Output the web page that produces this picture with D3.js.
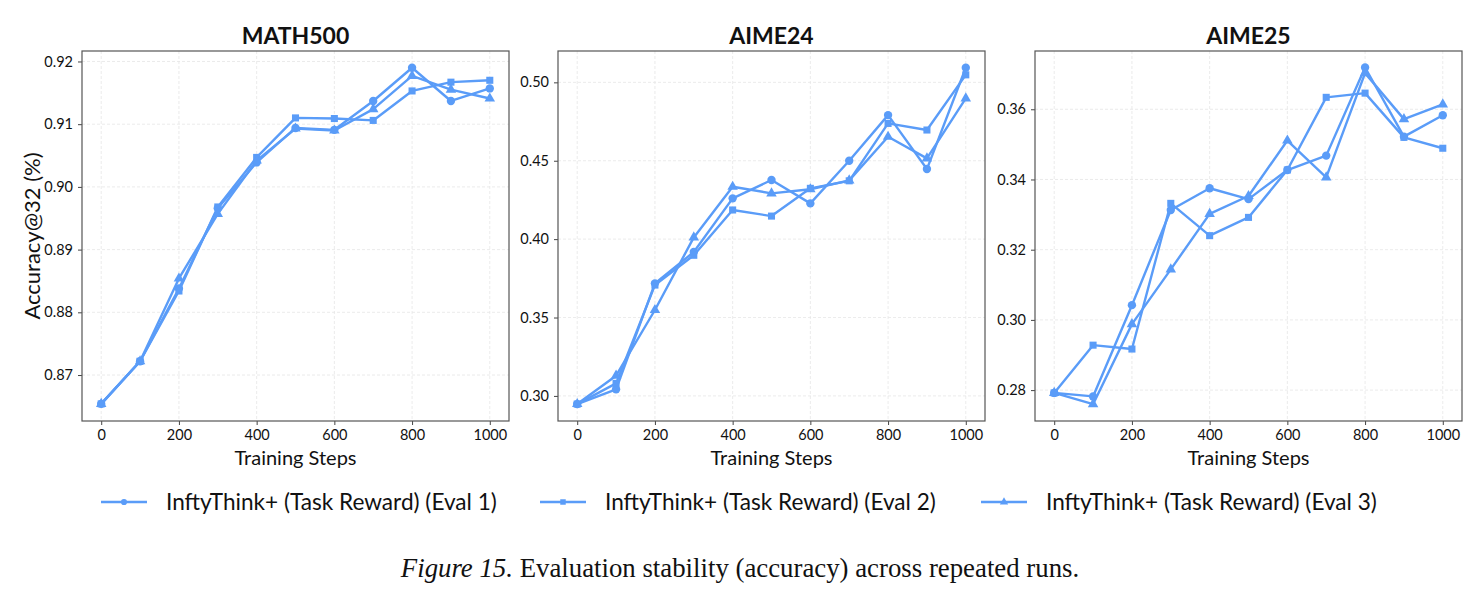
<!DOCTYPE html>
<html>
<head>
<meta charset="utf-8">
<script src="https://cdn.jsdelivr.net/npm/d3@7"></script>
<style>
  body { margin: 0; background: #fff; }
  svg text { font-family: Lato, "Noto Sans", sans-serif; fill: #111; }
</style>
</head>
<body>
<script>
const steps = [0, 100, 200, 300, 400, 500, 600, 700, 800, 900, 1000];
const seriesNames = ["InftyThink+ (Task Reward) (Eval 1)", "InftyThink+ (Task Reward) (Eval 2)", "InftyThink+ (Task Reward) (Eval 3)"];
const panelTitles = ["MATH500", "AIME24", "AIME25"];

// MATH500
const math500Eval1 = [0.8654, 0.8722, 0.8838, 0.8966, 0.9039, 0.9094, 0.9091, 0.9137, 0.9190, 0.9137, 0.9157];
const math500Eval2 = [0.8654, 0.8722, 0.8834, 0.8968, 0.9047, 0.9110, 0.9109, 0.9106, 0.9153, 0.9167, 0.9170];
const math500Eval3 = [0.8654, 0.8722, 0.8854, 0.8957, 0.9042, 0.9093, 0.9090, 0.9124, 0.9177, 0.9155, 0.9141];
const math500Ticks = [0.87, 0.88, 0.89, 0.90, 0.91, 0.92];

// AIME24
const aime24Eval1 = [0.2948, 0.3042, 0.3718, 0.3918, 0.4260, 0.4377, 0.4228, 0.4500, 0.4791, 0.4447, 0.5093];
const aime24Eval2 = [0.2948, 0.3080, 0.3707, 0.3897, 0.4186, 0.4147, 0.4324, 0.4372, 0.4738, 0.4696, 0.5048];
const aime24Eval3 = [0.2948, 0.3129, 0.3548, 0.4011, 0.4334, 0.4292, 0.4318, 0.4375, 0.4653, 0.4515, 0.4898];
const aime24Ticks = [0.30, 0.35, 0.40, 0.45, 0.50];

// AIME25
const aime25Eval1 = [0.2792, 0.2782, 0.3042, 0.3313, 0.3375, 0.3344, 0.3427, 0.3468, 0.3719, 0.3522, 0.3583];
const aime25Eval2 = [0.2792, 0.2928, 0.2917, 0.3332, 0.3240, 0.3292, 0.3427, 0.3634, 0.3646, 0.3520, 0.3489];
const aime25Eval3 = [0.2792, 0.2760, 0.2988, 0.3144, 0.3302, 0.3353, 0.3511, 0.3406, 0.3703, 0.3572, 0.3614];
const aime25Ticks = [0.28, 0.30, 0.32, 0.34, 0.36];

const xTicks = [0, 200, 400, 600, 800, 1000];

const lineColor = "#5a9cf8";
const symbols = [d3.symbolCircle, d3.symbolSquare, d3.symbolTriangle];
const symbolSizes = [55, 50, 48];

const width = 1483, height = 597;

let svg = d3.select("body").append("svg")
  .attr("width", width)
  .attr("height", height);

// panel frames (pixel boxes) + y domains
const panels = [
  { left: 82, right: 509, domain: [0.86267, 0.92167], ticks: math500Ticks, series: [math500Eval1, math500Eval2, math500Eval3] },
  { left: 558, right: 985, domain: [0.2840, 0.5200], ticks: aime24Ticks, series: [aime24Eval1, aime24Eval2, aime24Eval3] },
  { left: 1035, right: 1462, domain: [0.2712, 0.3766], ticks: aime25Ticks, series: [aime25Eval1, aime25Eval2, aime25Eval3] }
];
const plotTop = 51, plotBottom = 421;

panels.forEach((p, i) => drawPanel(p, i));

function drawPanel(p, idx) {
  // x padding so 0 and 1000 sit ~19px inside the frame
  let pad = (p.right - p.left) * 0.045;
  let x = d3.scaleLinear().domain([0, 1000]).range([p.left + pad, p.right - pad]);
  let y = d3.scaleLinear().domain(p.domain).range([plotBottom, plotTop]);

  let g = svg.append("g");

  // grid
  g.selectAll(".vgrid").data(xTicks).enter().append("line")
    .attr("x1", d => x(d)).attr("x2", d => x(d))
    .attr("y1", plotTop).attr("y2", plotBottom)
    .attr("stroke", "#e6e6e6").attr("stroke-width", 0.8).attr("stroke-dasharray", "3,2");
  g.selectAll(".hgrid").data(p.ticks).enter().append("line")
    .attr("x1", p.left).attr("x2", p.right)
    .attr("y1", d => y(d)).attr("y2", d => y(d))
    .attr("stroke", "#e6e6e6").attr("stroke-width", 0.8).attr("stroke-dasharray", "3,2");

  // axes
  let xAxis = d3.axisBottom(x).tickValues(xTicks).tickFormat(d3.format("d")).tickSize(4).tickSizeOuter(0).tickPadding(5);
  let gx = g.append("g").attr("transform", `translate(0,${plotBottom})`).call(xAxis);
  gx.select(".domain").remove();
  gx.selectAll("text").style("font-size", "14.5px");
  gx.selectAll("line").attr("stroke", "#444");

  let yAxis = d3.axisLeft(y).tickValues(p.ticks).tickFormat(d3.format(".2f")).tickSize(4).tickSizeOuter(0).tickPadding(5);
  let gy = g.append("g").attr("transform", `translate(${p.left},0)`).call(yAxis);
  gy.select(".domain").remove();
  gy.selectAll("text").style("font-size", "14.5px");
  gy.selectAll("line").attr("stroke", "#444");

  // frame
  g.append("rect")
    .attr("x", p.left).attr("y", plotTop)
    .attr("width", p.right - p.left).attr("height", plotBottom - plotTop)
    .attr("fill", "none").attr("stroke", "#555").attr("stroke-width", 1.2);

  // lines + markers
  let line = d3.line().x((d, i) => x(steps[i])).y(d => y(d));
  p.series.forEach((s, si) => {
    g.append("path")
      .datum(s)
      .attr("d", line)
      .attr("fill", "none")
      .attr("stroke", lineColor)
      .attr("stroke-width", 2.4)
      .attr("stroke-linejoin", "round");
    g.selectAll(".m" + si).data(s).enter().append("path")
      .attr("transform", (d, i) => `translate(${x(steps[i])},${y(d)})`)
      .attr("d", d3.symbol().type(symbols[si]).size(symbolSizes[si]))
      .attr("fill", lineColor);
  });

  // title
  g.append("text")
    .attr("x", (p.left + p.right) / 2).attr("y", 44)
    .attr("text-anchor", "middle")
    .style("font-size", "23px").style("font-weight", "bold")
    .text(panelTitles[idx]);

  // x label
  g.append("text")
    .attr("x", (p.left + p.right) / 2).attr("y", 465)
    .attr("text-anchor", "middle")
    .style("font-size", "20px")
    .text("Training Steps");

  if (idx === 0) {
    g.append("text")
      .attr("transform", `translate(40,${(plotTop + plotBottom) / 2}) rotate(-90)`)
      .attr("text-anchor", "middle")
      .style("font-size", "22px")
      .text("Accuracy@32 (%)");
  }
}

// LEGEND
const legendX = [101, 540, 981];
let legend = svg.append("g").attr("id", "legend");
seriesNames.forEach((name, i) => {
  let lg = legend.append("g").attr("transform", `translate(${legendX[i]},502)`);
  lg.append("line").attr("x1", 0).attr("x2", 46).attr("y1", 0).attr("y2", 0)
    .attr("stroke", lineColor).attr("stroke-width", 2.4);
  lg.append("path").attr("transform", "translate(23,0)")
    .attr("d", d3.symbol().type(symbols[i]).size(30))
    .attr("fill", lineColor);
  lg.append("text").attr("x", 65).attr("y", 8)
    .style("font-size", "22.6px")
    .text(name);
});

// caption
let cap = svg.append("text")
  .attr("x", 740).attr("y", 577)
  .attr("text-anchor", "middle")
  .style("font-family", "'Liberation Serif', 'Times New Roman', serif")
  .style("font-size", "26.8px");
cap.append("tspan").style("font-style", "italic").text("Figure 15.");
cap.append("tspan").text(" Evaluation stability (accuracy) across repeated runs.");
</script>
</body>
</html>
